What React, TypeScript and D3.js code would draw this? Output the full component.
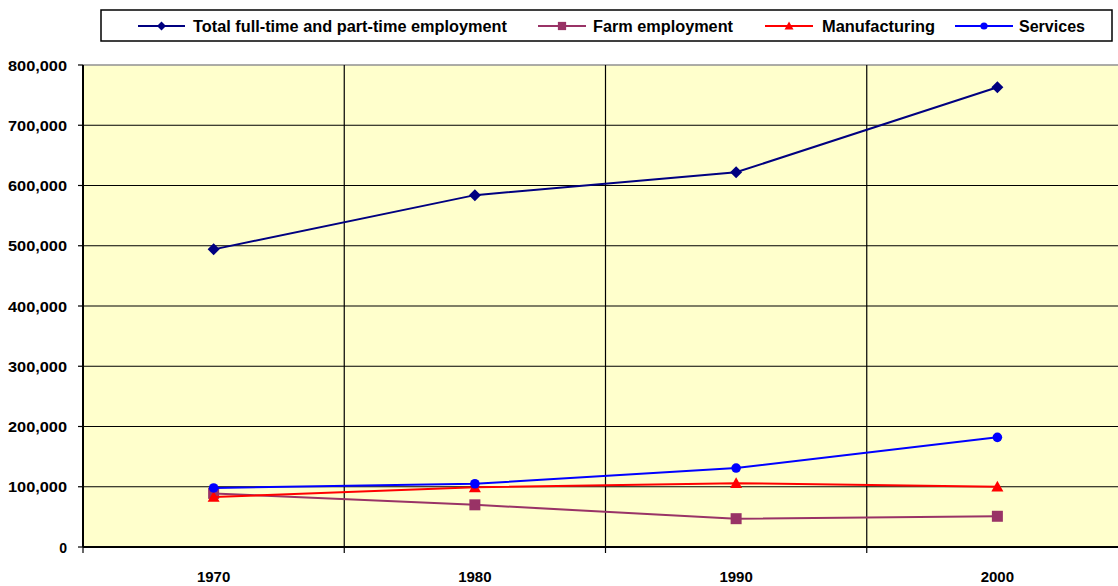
import React from "react";
import * as d3 from "d3";

const years = ["1970", "1980", "1990", "2000"];
const totalEmployment = [494000, 584000, 622000, 763000];
const farmEmployment = [89000, 70000, 47000, 51000];
const manufacturing = [83000, 99000, 106000, 100000];
const services = [98000, 105000, 131000, 182000];
const yTicks = [0, 100000, 200000, 300000, 400000, 500000, 600000, 700000, 800000];

type SeriesDef = { name: string; values: number[]; color: string; marker: string };

const series: SeriesDef[] = [
  { name: "Total full-time and part-time employment", values: totalEmployment, color: "#000080", marker: "diamond" },
  { name: "Farm employment", values: farmEmployment, color: "#993366", marker: "square" },
  { name: "Manufacturing", values: manufacturing, color: "#FF0000", marker: "triangle" },
  { name: "Services", values: services, color: "#0000FF", marker: "circle" },
];

const W = 1118;
const H = 586;
const font = "'Liberation Sans', Arial, sans-serif";

// marker shape scaled by r (half-size)
const markerPath = (kind: string, r: number) => {
  if (kind === "diamond") return `M0,${-r}L${r},0L0,${r}L${-r},0Z`;
  if (kind === "square") return `M${-r},${-r}H${r}V${r}H${-r}Z`;
  if (kind === "triangle") return `M0,${-r}L${r},${r * 0.8}H${-r}Z`;
  return `M${r},0A${r},${r} 0 1,1 ${-r},0A${r},${r} 0 1,1 ${r},0Z`;
};
const markerSize: Record<string, number> = { diamond: 6, square: 5.5, triangle: 6, circle: 4.8 };

// legend layout: line start, line end, text start, text length
const legendPos = [
  { x1: 138, x2: 185, text: 193, len: 314 },
  { x1: 538, x2: 586, text: 593, len: 140 },
  { x1: 765, x2: 813, text: 822, len: 113 },
  { x1: 955, x2: 1013, text: 1019, len: 66 },
];

export default function App() {
  const plot = { left: 83, right: 1128, top: 65, bottom: 547 };
  const x = d3.scaleBand<string>().domain(years).range([plot.left, plot.right]);
  const y = d3.scaleLinear().domain([0, 800000]).range([plot.bottom, plot.top]);
  const cx = (yr: string) => (x(yr) || 0) + x.bandwidth() / 2;

  const line = d3
    .line<number>()
    .x((_, i) => cx(years[i]))
    .y((d) => y(d));

  const boundaries = years.map((yr) => x(yr) || 0).concat([plot.right]);
  const fmt = d3.format(",");

  return (
    <svg width={W} height={H} style={{ position: "absolute", left: 0, top: 0, background: "#fff" }} fontFamily={font}>
      <rect x={plot.left} y={plot.top} width={plot.right - plot.left} height={plot.bottom - plot.top} fill="#FFFFCC" />
      {/* horizontal gridlines */}
      {yTicks.slice(1).map((t) => (
        <line key={t} x1={plot.left} x2={plot.right} y1={y(t)} y2={y(t)}
          stroke={t === 800000 ? "#909090" : "#000"} strokeWidth={t === 800000 ? 1.5 : 1.2} />
      ))}
      {/* vertical gridlines */}
      {boundaries.slice(1, -1).map((b, i) => (
        <line key={i} x1={b} x2={b} y1={plot.top} y2={plot.bottom} stroke="#000" strokeWidth={1.2} />
      ))}
      {/* axes */}
      <line x1={plot.left} x2={plot.left} y1={plot.top} y2={plot.bottom} stroke="#000" strokeWidth={2} />
      <line x1={plot.left} x2={plot.right} y1={plot.bottom} y2={plot.bottom} stroke="#000" strokeWidth={2} />
      {yTicks.map((t) => (
        <g key={t}>
          <line x1={plot.left - 5} x2={plot.left} y1={y(t)} y2={y(t)} stroke="#000" strokeWidth={1.2} />
          <text x={67} y={y(t) + 5.5} textAnchor="end" fontSize={14} fontWeight="bold" fill="#000"
            textLength={t === 0 ? undefined : 59} lengthAdjust="spacingAndGlyphs">
            {fmt(t)}
          </text>
        </g>
      ))}
      {boundaries.map((b, i) => (
        <line key={i} x1={b} x2={b} y1={plot.bottom} y2={plot.bottom + 6} stroke="#000" strokeWidth={1.2} />
      ))}
      {years.map((yr) => (
        <text key={yr} x={cx(yr)} y={582} textAnchor="middle" fontSize={15} fontWeight="bold" fill="#000">
          {yr}
        </text>
      ))}
      {/* series */}
      {series.map((s) => (
        <g key={s.name}>
          <path d={line(s.values) || ""} fill="none" stroke={s.color} strokeWidth={2} />
          {s.values.map((v, i) => (
            <path key={i} d={markerPath(s.marker, markerSize[s.marker])}
              transform={`translate(${cx(years[i])},${y(v)})`} fill={s.color} />
          ))}
        </g>
      ))}
      {/* legend */}
      <rect x={101} y={10} width={1011} height={31} fill="#fff" stroke="#000" strokeWidth={1.5} />
      {series.map((s, i) => {
        const p = legendPos[i];
        return (
          <g key={s.name}>
            <line x1={p.x1} x2={p.x2} y1={26} y2={26} stroke={s.color} strokeWidth={2} />
            <path d={markerPath(s.marker, markerSize[s.marker] * 0.75)}
              transform={`translate(${(p.x1 + p.x2) / 2},26)`} fill={s.color} />
            <text x={p.text} y={32} fontSize={16} fontWeight="bold" fill="#000"
              textLength={p.len} lengthAdjust="spacingAndGlyphs">
              {s.name}
            </text>
          </g>
        );
      })}
    </svg>
  );
}
